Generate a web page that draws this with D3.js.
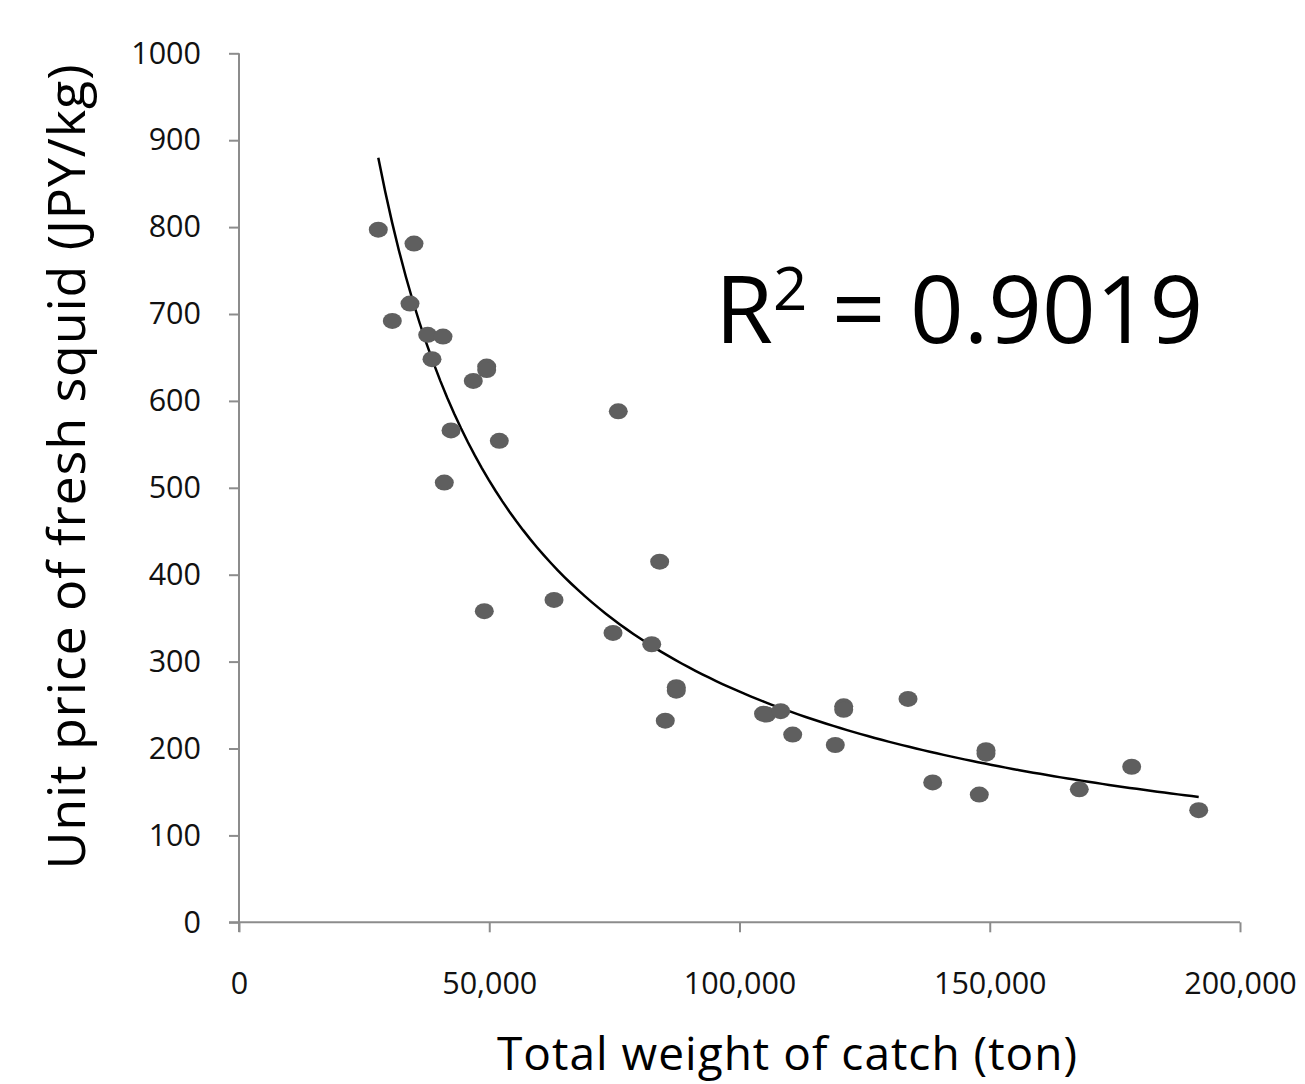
<!DOCTYPE html>
<html>
<head>
<meta charset="utf-8">
<script src="https://cdn.jsdelivr.net/npm/d3@7"></script>
<style>
  body { margin: 0; background: #fff; }
  svg { display: block; font-family: "Open Sans", sans-serif; }
</style>
</head>
<body>
<svg id="svg" width="1305" height="1084"></svg>
<script>
// catch weight (ton) and unit price (JPY/kg)
const catchTon = [27830, 34965, 34166, 30630, 37700, 40760, 38560, 49490, 49490, 46810,
  42360, 52010, 41020, 75780, 84050, 62940, 49010, 74730, 82460, 87370, 87370, 85170,
  104800, 105400, 108230, 110630, 120820, 120820, 119140, 133670, 138600, 149250, 149250,
  147910, 167890, 178360, 191750];
const priceJpy = [797, 781, 712, 692, 676, 674, 648, 639.5, 635.5, 623,
  566, 554, 506, 588, 415, 371, 358, 333, 320, 270.5, 266.5, 232,
  240, 239, 243, 216, 248.5, 244.5, 204, 257, 161, 198, 194,
  147, 153, 179, 129];

const xTicks = [0, 50000, 100000, 150000, 200000];
const yTicks = [0, 100, 200, 300, 400, 500, 600, 700, 800, 900, 1000];

const svg = d3.select("#svg");

const x = d3.scaleLinear().domain([0, 200000]).range([239, 1240]);
const y = d3.scaleLinear().domain([0, 1000]).range([922.3, 53.3]);

const axisColor = "#8c8c8c";

// axes
const xAxis = svg.append("g")
  .attr("transform", "translate(0,922.3)")
  .call(d3.axisBottom(x).tickValues(xTicks).tickSize(10).tickPadding(40)
    .tickFormat(d3.format(",")).tickSizeOuter(0));
xAxis.select(".domain").attr("stroke", axisColor).attr("stroke-width", 2)
  .attr("d", "M229,0H1240");

const yAxis = svg.append("g")
  .attr("transform", "translate(239,0)")
  .call(d3.axisLeft(y).tickValues(yTicks).tickSize(10).tickPadding(28)
    .tickFormat(d3.format("d")).tickSizeOuter(0));
yAxis.select(".domain").attr("stroke", axisColor).attr("stroke-width", 2)
  .attr("d", "M0,53.3V932");

svg.selectAll(".tick line").attr("stroke", axisColor).attr("stroke-width", 2);
svg.selectAll(".tick text").attr("font-size", 30.5).attr("fill", "#111")
  .attr("font-family", "Open Sans, sans-serif");
xAxis.selectAll(".tick text").attr("dy", "0.71em");

// power trendline fitted to the points (log-log least squares)
const lx = catchTon.map(Math.log);
const ly = priceJpy.map(Math.log);
const mx = d3.mean(lx), my = d3.mean(ly);
const b = d3.sum(lx, (v, i) => (v - mx) * (ly[i] - my)) / d3.sum(lx, v => (v - mx) * (v - mx));
const a = Math.exp(my - b * mx);
const xs = d3.range(120).map(i => d3.min(catchTon) + i * (d3.max(catchTon) - d3.min(catchTon)) / 119);

svg.append("path")
  .datum(xs)
  .attr("fill", "none")
  .attr("stroke", "#000")
  .attr("stroke-width", 2.5)
  .attr("d", d3.line().x(d => x(d)).y(d => y(a * Math.pow(d, b))));

// points
svg.append("g")
  .selectAll("ellipse")
  .data(catchTon)
  .enter()
  .append("ellipse")
  .attr("cx", d => x(d))
  .attr("cy", (d, i) => y(priceJpy[i]))
  .attr("rx", 9.5)
  .attr("ry", 8)
  .attr("fill", "#5f5f5f");

// R squared label
const r2 = svg.append("text")
  .attr("x", 715)
  .attr("y", 343)
  .attr("font-size", 94)
  .attr("fill", "#000");
r2.append("tspan").text("R");
r2.append("tspan").attr("font-size", 60).attr("dy", -33).text("2");
r2.append("tspan").attr("dy", 33).text(" = 0.9019");

// axis titles
svg.append("text")
  .attr("transform", "translate(85,467) rotate(-90)")
  .attr("text-anchor", "middle")
  .attr("font-size", 52)
  .attr("textLength", 805)
  .attr("lengthAdjust", "spacing")
  .attr("fill", "#000")
  .text("Unit price of fresh squid (JPY/kg)");

svg.append("text")
  .attr("x", 787)
  .attr("y", 1070)
  .attr("text-anchor", "middle")
  .attr("font-size", 46)
  .attr("textLength", 580)
  .attr("lengthAdjust", "spacing")
  .attr("fill", "#000")
  .text("Total weight of catch (ton)");
</script>
</body>
</html>
